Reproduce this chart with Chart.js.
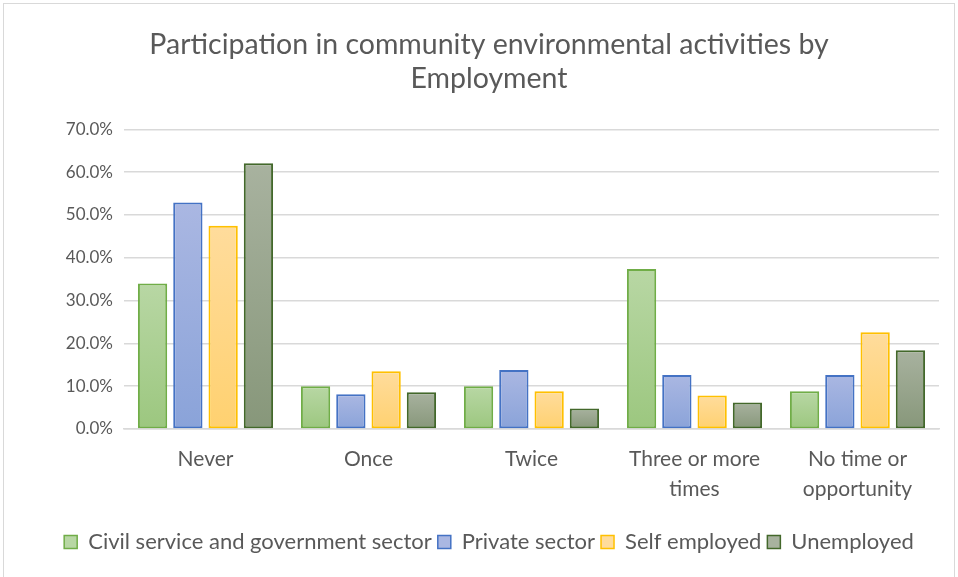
<!DOCTYPE html>
<html lang="en">
<head>
    <meta charset="UTF-8">
    <title>Participation by Employment</title>
    <script src="https://cdn.jsdelivr.net/npm/chart.js"></script>
    <style>
        body { margin: 0; background: #fff; }
        .frame { position: absolute; left: 3px; top: 3px; width: 950px; height: 580px; border: 1px solid #d9d9d9; }
        .chart-box { position: absolute; left: 0; top: 0; width: 958px; height: 577px; }
    </style>
</head>
<body>
    <div class="frame"></div>
    <div class="chart-box">
        <canvas id="employmentChart" width="958" height="577"></canvas>
    </div>

<script>
    // Categories and series (percent)
    const categories = ['Never', 'Once', 'Twice', ['Three or more', 'times'], ['No time or', 'opportunity']];
    const seriesNames = ['Civil service and government sector', 'Private sector', 'Self employed', 'Unemployed'];
    const civilService = [34.0, 10.0, 10.0, 37.4, 8.8];
    const privateSector = [52.9, 8.1, 13.8, 12.6, 12.6];
    const selfEmployed = [47.5, 13.5, 8.8, 7.8, 22.6];
    const unemployed = [62.1, 8.6, 4.8, 6.2, 18.4];
    const yTicks = [0, 10, 20, 30, 40, 50, 60, 70];

    // fill gradient (top, bottom) and outline per series
    const styles = [
        { top: '#b8d7a4', bottom: '#9cc77f', border: '#70ad47' },
        { top: '#aab7e2', bottom: '#8aa3d9', border: '#4472c4' },
        { top: '#ffdc9c', bottom: '#ffd170', border: '#ffc000' },
        { top: '#a8b29f', bottom: '#87977a', border: '#43682b' }
    ];

    function barFill(style) {
        return function(context) {
            if (context.type !== 'data') return style.bottom;
            const chart = context.chart;
            const y = chart.scales.y;
            if (!y) return style.bottom;
            const yTop = y.getPixelForValue(context.raw);
            const yBase = y.getPixelForValue(0);
            if (!isFinite(yTop) || !isFinite(yBase) || yTop === yBase) return style.bottom;
            const g = chart.ctx.createLinearGradient(0, yTop, 0, yBase);
            g.addColorStop(0, style.top);
            g.addColorStop(1, style.bottom);
            return g;
        };
    }

    const allSeries = [civilService, privateSector, selfEmployed, unemployed];
    const datasets = allSeries.map(function(values, i) {
        return {
            label: seriesNames[i],
            data: values,
            backgroundColor: barFill(styles[i]),
            borderColor: styles[i].border,
            borderWidth: 2,
            borderSkipped: false,
            categoryPercentage: 0.866,
            barPercentage: 0.83
        };
    });

    const textColor = '#595959';
    const fontFamily = "Lato, 'Noto Sans', sans-serif";

    const ctx = document.getElementById('employmentChart').getContext('2d');
    const employmentChart = new Chart(ctx, {
        type: 'bar',
        data: { labels: categories, datasets: datasets },
        options: {
            responsive: false,
            animation: false,
            layout: { padding: { left: 39, right: 19, top: 0, bottom: 14 } },
            plugins: {
                title: {
                    display: true,
                    text: ['Participation in community environmental activities by', 'Employment'],
                    color: textColor,
                    font: { family: fontFamily, size: 28.5, weight: 'normal', lineHeight: 1.2 },
                    padding: { top: 28, bottom: 33 }
                },
                legend: {
                    position: 'bottom',
                    labels: {
                        color: textColor,
                        font: { family: fontFamily, size: 22 },
                        boxWidth: 13,
                        boxHeight: 13,
                        padding: 6,
                        generateLabels: function(chart) {
                            return seriesNames.map(function(name, i) {
                                return {
                                    text: name,
                                    fillStyle: styles[i].top,
                                    strokeStyle: styles[i].border,
                                    lineWidth: 1.5,
                                    fontColor: textColor,
                                    datasetIndex: i,
                                    hidden: false
                                };
                            });
                        }
                    }
                },
                tooltip: { enabled: false }
            },
            scales: {
                x: {
                    afterFit: function(scale) { scale.height = 96; },
                    grid: { display: false, drawTicks: false },
                    border: { display: true, color: '#d9d9d9', width: 1.5 },
                    ticks: {
                        color: textColor,
                        font: { family: fontFamily, size: 21, lineHeight: 1.43 },
                        padding: 15,
                        maxRotation: 0,
                        autoSkip: false
                    }
                },
                y: {
                    min: 0,
                    max: 70,
                    afterFit: function(scale) { scale.width = 85; },
                    afterBuildTicks: function(scale) {
                        scale.ticks = yTicks.map(function(v) { return { value: v }; });
                    },
                    grid: { color: '#d9d9d9', lineWidth: 1.5, drawTicks: false },
                    border: { display: false },
                    ticks: {
                        color: textColor,
                        font: { family: fontFamily, size: 17 },
                        padding: 11,
                        callback: function(value) { return value.toFixed(1) + '%'; }
                    }
                }
            }
        }
    });
</script>
</body>
</html>
